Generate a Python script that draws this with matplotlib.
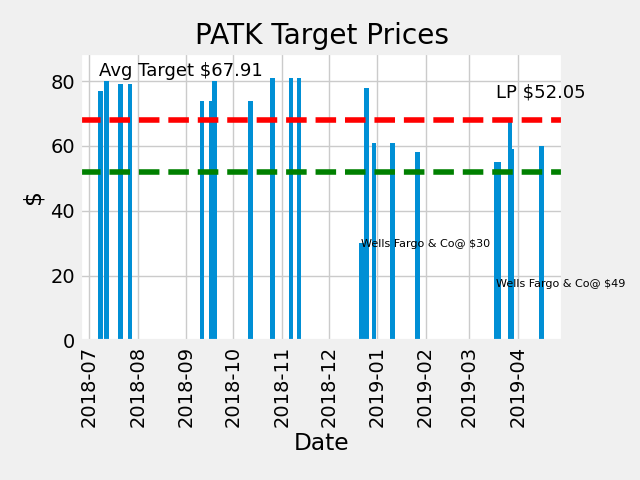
import matplotlib
matplotlib.use("Agg")
import matplotlib.pyplot as plt
import matplotlib.dates as mdates
import pandas as pd

plt.style.use("fivethirtyeight")

dates = ["2018-07-08","2018-07-12","2018-07-21","2018-07-27","2018-09-11","2018-09-17",
         "2018-09-19","2018-10-12","2018-10-26","2018-11-07","2018-11-12","2018-12-22",
         "2018-12-25","2018-12-30","2019-01-11","2019-01-27","2019-03-18","2019-03-20",
         "2019-03-27","2019-03-28","2019-04-16"]
targets = [77, 80, 79, 79, 74, 74, 80, 74, 81, 81, 81, 30, 78, 61, 61, 58, 55, 55, 68, 59, 60]
avg_target = 67.91
last_price = 52.05

d = pd.to_datetime(dates)
fig, ax = plt.subplots(figsize=(6.4, 4.8), dpi=100)
fig.patch.set_facecolor("#f0f0f0")
ax.set_facecolor("white")
ax.bar(d, targets, width=3, color="#008fd5")
ax.axhline(avg_target, color="red", ls="--", lw=4)
ax.axhline(last_price, color="green", ls="--", lw=4)
ax.text(pd.Timestamp("2018-07-07"), 81.5, f"Avg Target ${avg_target}", fontsize=13)
ax.text(pd.Timestamp("2019-03-18"), 75, f"LP ${last_price}", fontsize=13)
ax.text(pd.Timestamp("2018-12-22"), 29, "Wells Fargo & Co@ $30", fontsize=8)
ax.text(pd.Timestamp("2019-03-18"), 16.5, "Wells Fargo & Co@ $49", fontsize=8)
ax.set_xlim(pd.Timestamp("2018-06-25"), pd.Timestamp("2019-04-30"))
ax.set_ylim(0, 88.7)
ax.xaxis.set_major_locator(mdates.MonthLocator())
ax.xaxis.set_major_formatter(mdates.DateFormatter("%Y-%m"))
plt.setp(ax.get_xticklabels(), rotation=90)
ax.set_title("PATK Target Prices")
ax.set_xlabel("Date")
ax.set_ylabel("$")
fig.subplots_adjust(left=0.125, right=0.88, top=0.89, bottom=0.29)
fig.savefig("out.png", facecolor=fig.get_facecolor())
